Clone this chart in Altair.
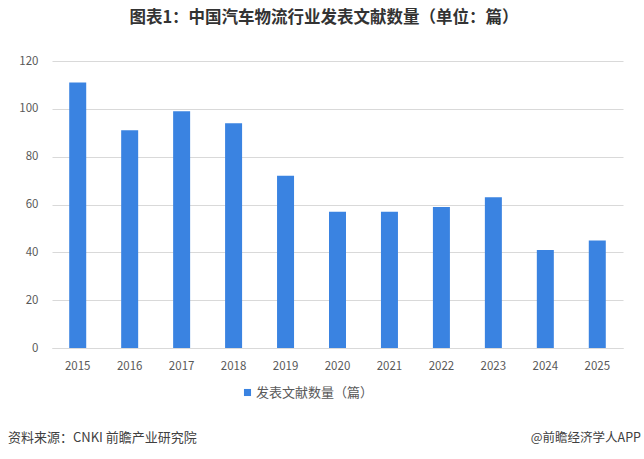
import altair as alt
import pandas as pd

years = ["2015", "2016", "2017", "2018", "2019", "2020", "2021", "2022", "2023", "2024", "2025"]
counts = [111, 91, 99, 94, 72, 57, 57, 59, 63, 41, 45]
series_name = "发表文献数量（篇）"
title_text = "图表1：中国汽车物流行业发表文献数量（单位：篇）"
source_text = "资料来源：CNKI  前瞻产业研究院"
brand_text = "@前瞻经济学人APP"

df = pd.DataFrame({"year": years, "count": counts, "series": [series_name] * len(years)})

FONT = "Noto Sans CJK SC"
W, H = 571, 287

bars = alt.Chart(df).mark_bar(color="#3a83e1", size=17).encode(
    x=alt.X("year:N", sort=years, title=None,
            scale=alt.Scale(paddingInner=0.67, paddingOuter=0.33),
            axis=alt.Axis(labelAngle=0, labelFont=FONT, labelFontSize=11.5, labelColor="#595959",
                          labelPadding=12, ticks=False, domainColor="#d9d9d9", grid=False)),
    y=alt.Y("count:Q", title=None,
            scale=alt.Scale(domain=[0, 120]),
            axis=alt.Axis(values=[0, 20, 40, 60, 80, 100, 120], labelFont=FONT, labelFontSize=11.5,
                          labelColor="#595959", labelPadding=14, ticks=False, domain=False,
                          gridColor="#d9d9d9")),
    color=alt.Color("series:N", scale=alt.Scale(range=["#3a83e1"]), title=None,
                    legend=alt.Legend(orient="none", legendX=189, legendY=325, symbolType="square",
                                      symbolSize=50, labelFont=FONT, labelFontSize=13,
                                      labelColor="#595959", symbolStrokeWidth=0, labelOffset=2)),
)

title_df = pd.DataFrame({"t": [title_text]})
title = alt.Chart(title_df).mark_text(font=FONT, fontSize=16.5, fontWeight="bold", color="#333333",
                                      align="center", baseline="middle").encode(
    text="t:N", x=alt.value(272), y=alt.value(-43))

src = alt.Chart(pd.DataFrame({"t": [source_text]})).mark_text(
    font=FONT, fontSize=13, color="#404040", align="left", baseline="middle").encode(
    text="t:N", x=alt.value(-44), y=alt.value(377))

brand = alt.Chart(pd.DataFrame({"t": [brand_text]})).mark_text(
    font=FONT, fontSize=12.5, color="#404040", align="right", baseline="middle").encode(
    text="t:N", x=alt.value(589), y=alt.value(377))

chart = alt.layer(bars, title, src, brand).properties(
    width=W, height=H,
    autosize=alt.AutoSizeParams(type="none"),
    padding={"left": 52, "top": 61, "right": 21, "bottom": 111},
    background="white",
).configure_view(stroke=None)

chart.save("out.html", embed_options={"renderer": "svg", "actions": False})
